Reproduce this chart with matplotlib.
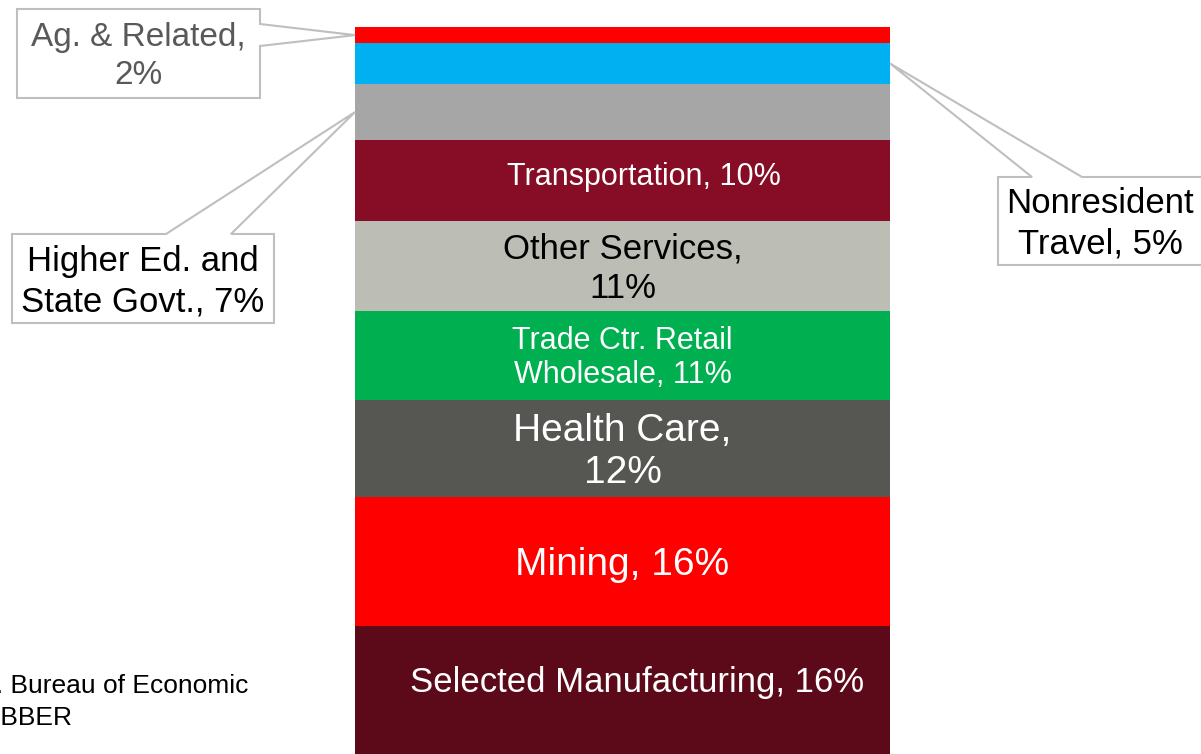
import numpy as np
import matplotlib
matplotlib.use("Agg")
import matplotlib.pyplot as plt
from matplotlib.patches import Polygon

plt.rcParams['font.family'] = ['Liberation Sans', 'DejaVu Sans']

# data (top of the bar to bottom)
sectors = ["Ag. & Related", "Nonresident\nTravel", "Higher Ed. and\nState Govt.",
           "Transportation", "Other Services,\n", "Trade Ctr. Retail\nWholesale",
           "Health Care,\n", "Mining", "Selected Manufacturing"]
shares = [2, 5, 7, 10, 11, 11, 12, 16, 16]
colors = ["#ff0000", "#00b0f0", "#a6a6a6", "#870c25", "#bcbeb5", "#00b050",
          "#565752", "#ff0000", "#5c0a1a"]

# inside labels: index -> (text colour, font size, dx px, dy px, line spacing)
inside = {
    3: ("white", 22, 21, -4, 1.0),
    4: ("black", 25, 0, 3, 1.24),
    5: ("white", 22, 0, 3, 1.17),
    6: ("white", 28, 0, 4, 1.2),
    7: ("white", 28, 0, 3, 1.0),
    8: ("white", 25, 15, -9, 1.0),
}

W, H = 1201, 754
fig = plt.figure(figsize=(W / 100, H / 100), dpi=100)

# bar axes: 8.1 px per percent, top of bar at y=27
ppp = 8.1
top = 27
total = 90
ax = fig.add_axes([355 / W, (H - top - total * ppp) / H, 535 / W, total * ppp / H])
ax.set_xlim(0, 1)
ax.set_ylim(total, 0)
ax.axis("off")

bottoms = np.concatenate([[0], np.cumsum(shares)[:-1]])
ax.bar(0.5, shares, bottom=bottoms, width=1.0, color=colors, edgecolor="none")

# overlay axes in pixel units for callouts and text
ov = fig.add_axes([0, 0, 1, 1], zorder=5)
ov.set_xlim(0, W)
ov.set_ylim(H, 0)
ov.axis("off")


def to_px(x, y):
    disp = ax.transData.transform((x, y))
    return ov.transData.inverted().transform(disp)


for i, (c, fs, dx, dy, ls) in inside.items():
    xp, yp = to_px(0.5, bottoms[i] + shares[i] / 2)
    label = sectors[i]
    if label.endswith("\n"):
        label = label + f"{shares[i]}%"
    else:
        label = label + f", {shares[i]}%"
    ov.text(xp + dx, yp + dy, label, color=c, fontsize=fs, ha="center",
            va="center", linespacing=ls)

# callouts: (index, box, wedge side, wedge base, bar side, text colour, font size)
callouts = [
    (0, (17, 9, 260, 98), "right", (24, 46), 0.0, "#595959", 24),
    (1, (998, 177, 1215, 265), "top", (1032, 1082), 1.0, "black", 25),
    (2, (12, 234, 274, 323), "top", (166, 231), 0.0, "black", 25),
]
for i, (x0, y0, x1, y1), side, (b0, b1), bx, tc, fs in callouts:
    tx, ty = to_px(bx, bottoms[i] + shares[i] / 2)
    if side == "right":
        pts = [(x0, y0), (x1, y0), (x1, b0), (tx, ty), (x1, b1), (x1, y1), (x0, y1)]
    else:
        pts = [(x0, y0), (b0, y0), (tx, ty), (b1, y0), (x1, y0), (x1, y1), (x0, y1)]
    ov.add_patch(Polygon(pts, closed=True, facecolor="white", edgecolor="#bfbfbf",
                         lw=1.5, clip_on=False))
    txt = sectors[i] + f", {shares[i]}%"
    if i == 0:
        txt = sectors[i] + f",\n{shares[i]}%"
    xc = (x0 + x1) / 2 if x1 <= W else 1100
    ov.text(xc, (y0 + y1) / 2 + 3, txt, color=tc, fontsize=fs, ha="center",
            va="center", linespacing=1.29)

# source note (cut off at the left edge, as in the original)
ov.text(248, 686, "Source: U.S. Bureau of Economic", fontsize=19, ha="right",
        va="center", color="black")
ov.text(72, 718, "Analysis; BBER", fontsize=19, ha="right", va="center", color="black")

fig.savefig("out.png", dpi=100)
